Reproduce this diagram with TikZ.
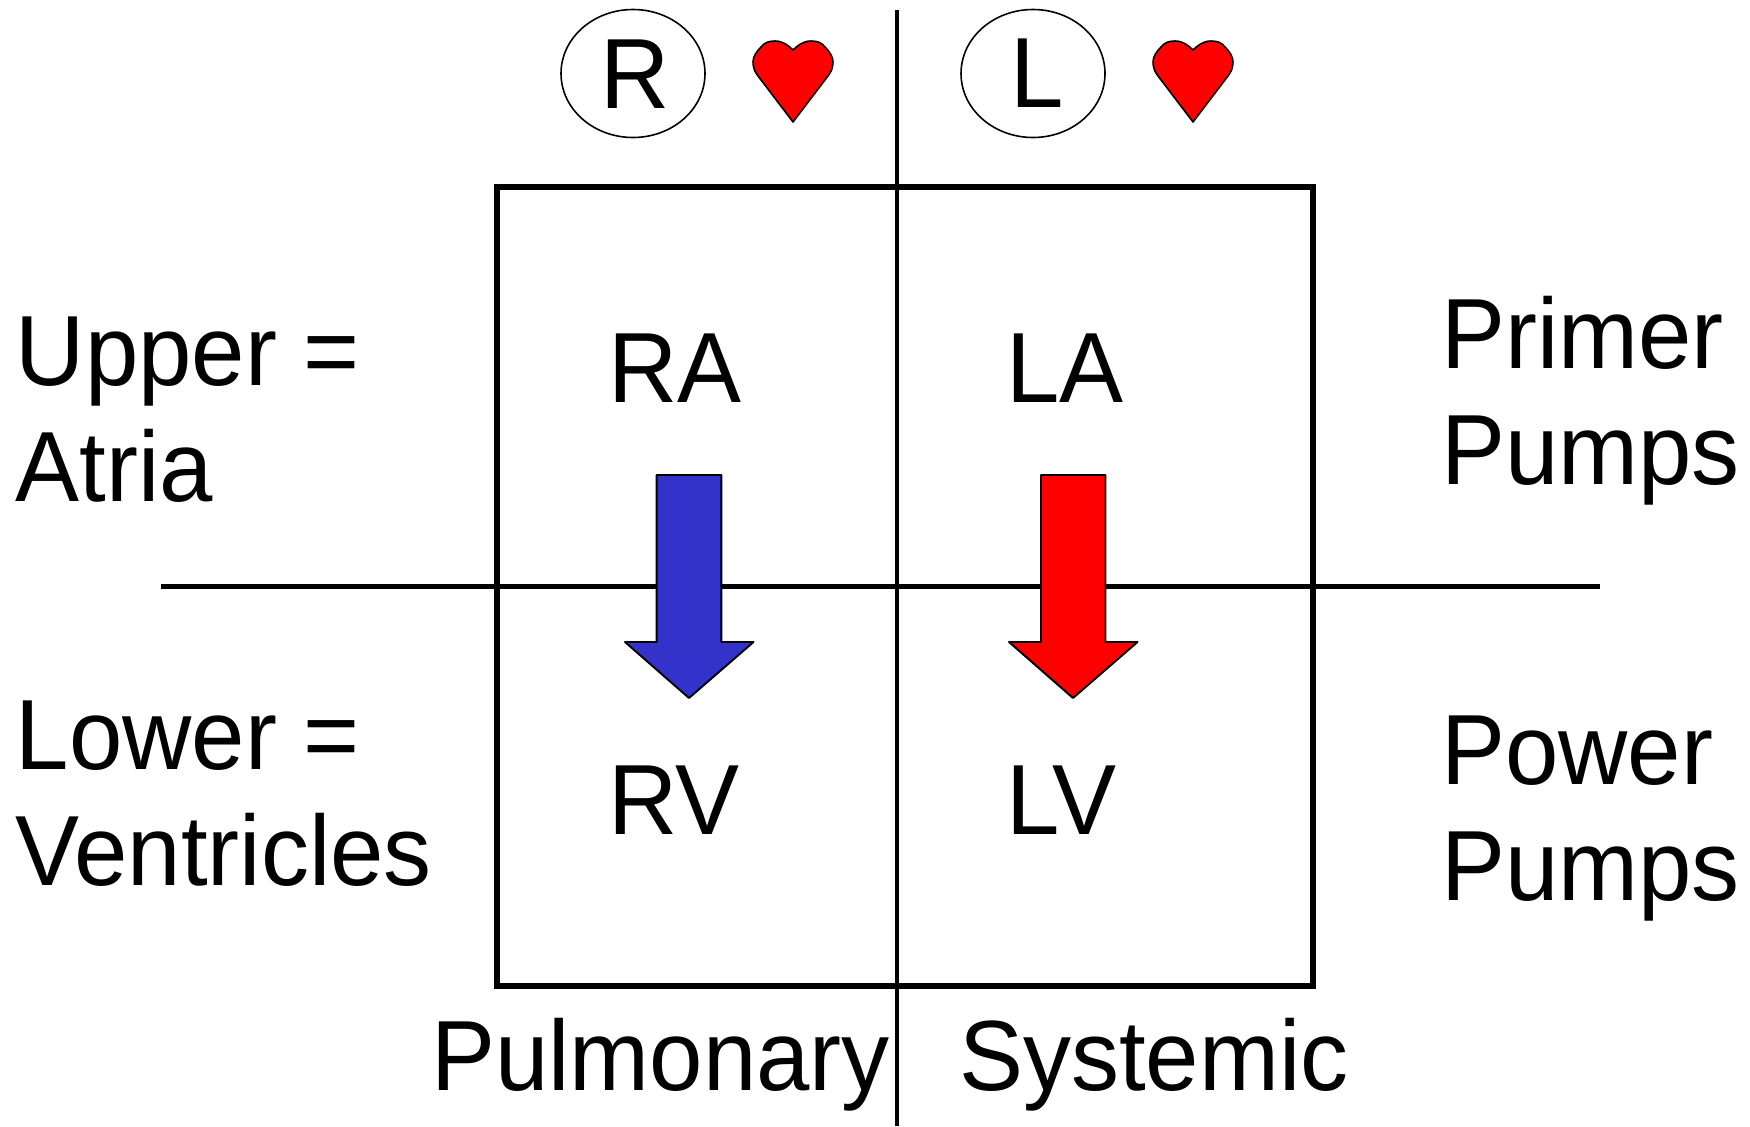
\documentclass[tikz,border=0pt]{standalone}
\usepackage{fontspec}
\setmainfont{Liberation Sans}
\usetikzlibrary{shapes.geometric}
\definecolor{veinblue}{HTML}{3333CC}
\newlength{\pxu}
\setlength{\pxu}{0.02cm}
\tikzset{
  lbl/.style={inner sep=0pt, anchor=base west, align=left, yscale=1.04, transform shape, font=\fontsize{54.6}{63.3}\selectfont},
  side/.style={ellipse, draw, line width=0.9pt, inner sep=0pt, minimum width=144\pxu, minimum height=128\pxu},
  flow/.style={draw, line width=1.1pt, line join=round},
  pics/heartmark/.style={code={
    \draw[fill=red, line width=0.9pt, line join=round] (0,50) .. controls (4,46) and (10,41) .. (18,41)
      .. controls (25,41) and (29,43) .. (32,47) .. controls (37,52) and (40,57) .. (40,62)
      .. controls (40,68) and (38,72) .. (35,76)
      -- (0,122) -- (-35,76) .. controls (-38,72) and (-40,68) .. (-40,62)
      .. controls (-40,57) and (-37,52) .. (-32,47) .. controls (-29,43) and (-25,41) .. (-18,41)
      .. controls (-10,41) and (-4,46) .. cycle;
  }}
}
\begin{document}
\begin{tikzpicture}[x=0.02cm, y=-0.02cm]
\useasboundingbox (0,0) rectangle (1750,1126);
\coordinate (midtop) at (897,10);
\coordinate (midbot) at (897,1126);
\coordinate (horl) at (161,586.5);
\coordinate (horr) at (1600,586.5);
\draw[line width=3.4pt] (497,187) rectangle (1313,985.5);
\draw[line width=2.3pt] (midtop) -- (midbot);
\draw[line width=2.3pt] (horl) -- (horr);
\node[side] (sideR) at (633,73.5){};
\node[side] (sideL) at (1033,73.5){};
\node[lbl] (letR) at (600.5,108){R};
\node[lbl] (letL) at (1010.5,107){L};
\pic at (793,0) {heartmark};
\pic at (1193,0) {heartmark};
\draw[flow, fill=veinblue] (656.6,475) -- (721.3,475) -- (721.3,642) -- (753.5,642) -- (689,698) -- (625,642) -- (656.6,642) -- cycle;
\draw[flow, fill=red] (1041,475) -- (1105.5,475) -- (1105.5,642) -- (1137.5,642) -- (1073,698) -- (1009,642) -- (1041,642) -- cycle;
\node[lbl] (ra) at (608,402){RA};
\node[lbl] (la) at (1006,402){LA};
\node[lbl] (rv) at (608,834){RV};
\node[lbl] (lv) at (1006,834){LV};
\node[lbl] (upper) at (15.5,501){Upper =\\Atria};
\node[lbl] (lower) at (15.5,885.5){Lower =\\Ventricles};
\node[lbl] (primer) at (1441,484.5){Primer\\Pumps};
\node[lbl] (power) at (1441,900){Power\\Pumps};
\node[lbl] (pulm) at (431,1090){Pulmonary};
\node[lbl] (syst) at (959,1090){Systemic};
\end{tikzpicture}
\end{document}
